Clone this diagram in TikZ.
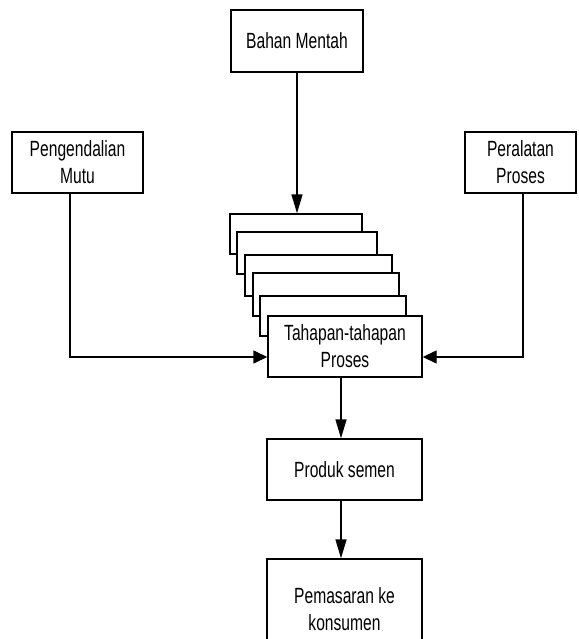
\documentclass[tikz,border=0pt]{standalone}
\usepackage{fontspec}
\setmainfont{Liberation Sans}[FakeStretch=0.71]
\usetikzlibrary{arrows.meta,calc}
\tikzstyle{box}=[draw,line width=1.4pt,fill=white,align=center,font=\fontsize{22}{27}\selectfont]
\tikzstyle{layerbox}=[draw,line width=1.4pt,fill=white]
\tikzstyle{flow}=[line width=1.4pt,-{Triangle[length=19pt,width=11pt]}]
\tikzstyle{sideflow}=[line width=1.4pt,-{Triangle[length=14pt,width=13pt]}]
\newcommand{\drawlayers}{
  \foreach \l/\x/\y/\w/\h in {1/296/234/132/40,2/307/253/140/42,3/318.5/275.5/147/41,4/326/294.5/146/43,5/333/316/146/40} {
    \node[layerbox,minimum width=\w pt,minimum height=\h pt] (layer\l) at (\x,\y) {};
  }
}

\begin{document}
\begin{tikzpicture}[x=1pt,y=-1pt]
	\useasboundingbox (0,0) rectangle (578,639);
	\node[box,minimum width=132pt,minimum height=62pt] (bahan) at (297,41) {Bahan Mentah};
	\node[box,minimum width=131pt,minimum height=61pt] (mutu) at (77.5,162.5) {Pengendalian\\Mutu};
	\node[box,minimum width=111pt,minimum height=61pt] (alat) at (520.5,162.5) {Peralatan\\Proses};
	\drawlayers
	\node[box,minimum width=154pt,minimum height=61pt] (tahapan) at (345,346.5) {Tahapan-tahapan\\Proses};
	\node[box,minimum width=155pt,minimum height=61pt] (produk) at (344.5,469.5) {Produk semen};
	\node[box,minimum width=155pt,minimum height=100pt] (pasar) at (344.5,609) {Pemasaran ke\\konsumen};

	\draw[flow] (bahan.south) -- (bahan.south |- layer1.north);
	\draw[sideflow] ([xshift=-7.5pt]mutu.south) |- ([yshift=-10.5pt]tahapan.west);
	\draw[sideflow] ([xshift=2.5pt]alat.south) |- ([yshift=-10.5pt]tahapan.east);
	\draw[flow] ([xshift=-4pt]tahapan.south) -- ([xshift=-4pt]tahapan.south |- produk.north);
	\draw[flow] ([xshift=-3.5pt]produk.south) -- ([xshift=-3.5pt]produk.south |- pasar.north);
\end{tikzpicture}
\end{document}
